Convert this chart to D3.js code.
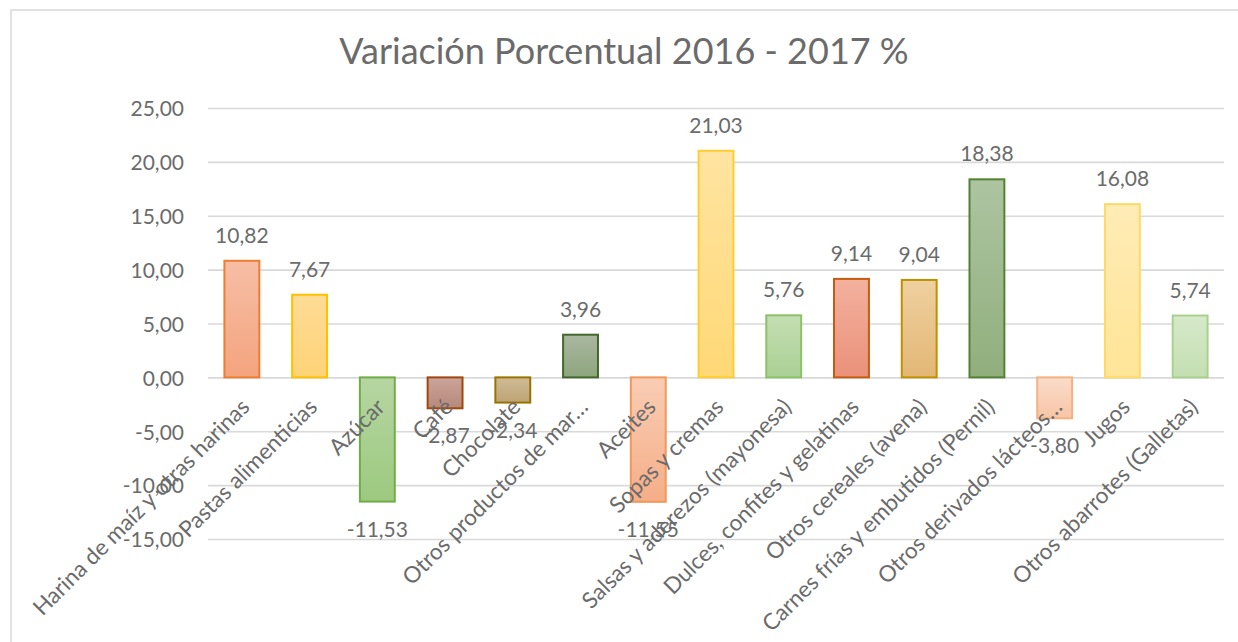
<!DOCTYPE html>
<html><head><meta charset="utf-8">
<script src="https://cdn.jsdelivr.net/npm/d3@7/dist/d3.min.js"></script>
<style>body{margin:0;background:#fff;overflow:hidden}</style>
</head><body><svg id="c" width="1238" height="642"></svg>
<script>
const title = "Variación Porcentual 2016 - 2017 %";
const categories = [
  "Harina de maíz y otras harinas", "Pastas alimenticias", "Azúcar", "Café", "Chocolate",
  "Otros productos de mar…", "Aceites", "Sopas y cremas", "Salsas y aderezos (mayonesa)",
  "Dulces, confites y gelatinas", "Otros cereales (avena)", "Carnes frías y embutidos (Pernil)",
  "Otros derivados lácteos…", "Jugos", "Otros abarrotes (Galletas)"
];
const values = [10.82, 7.67, -11.53, -2.87, -2.34, 3.96, -11.55, 21.03, 5.76, 9.14, 9.04, 18.38, -3.80, 16.08, 5.74];
const yTicks = [-15, -10, -5, 0, 5, 10, 15, 20, 25];
const fillTop    = ["#F6BEA5","#FEDC96","#B6D6A2","#CCA49A","#CFBB95","#A9B7A0","#F9CDB4","#FFE4A1","#C4DEB2","#F3B19E","#EFD0A0","#ADC4A1","#FADCCA","#FFEBB6","#D6E9CA"];
const fillBottom = ["#F4A47E","#FED377","#9CC97F","#B6897B","#BEA476","#8EA67E","#F5AE88","#FFD876","#AAD195","#EA917A","#E3B775","#90AF7D","#F7C5A6","#FFE597","#C4DFB2"];
const strokes    = ["#ED7D31","#FFC000","#70AD47","#9E480E","#997300","#43682B","#F1975A","#FFCD33","#8CC168","#C55A11","#BF9000","#548235","#F4B183","#FFD966","#A9D18E"];

const FONT = "Lato, 'Open Sans', sans-serif";
const TXT = "#6b6b6b";
const svg = d3.select("#c");

svg.append("rect").attr("x", 11).attr("y", 10).attr("width", 1240).attr("height", 650)
  .attr("fill", "#fff").attr("stroke", "#d9d9d9").attr("stroke-width", 1.5);

const x = d3.scaleBand().domain(categories).range([208, 1224]).paddingInner(0.485).paddingOuter(0.2425);
const y = d3.scaleLinear().domain([-15, 25]).range([539, 108]);

// gradients
const defs = svg.append("defs");
categories.forEach((c, i) => {
  const g = defs.append("linearGradient").attr("id", "g" + i)
    .attr("x1", 0).attr("y1", 0).attr("x2", 0).attr("y2", 1);
  g.append("stop").attr("offset", "0%").attr("stop-color", fillTop[i]);
  g.append("stop").attr("offset", "100%").attr("stop-color", fillBottom[i]);
});

// title
svg.append("text").attr("x", 624).attr("y", 64).attr("text-anchor", "middle")
  .attr("font-family", FONT).attr("font-size", 36).attr("fill", TXT).text(title);

// y axis with gridlines
const fmt = v => d3.format(".2f")(v).replace(".", ",").replace("\u2212", "-");
const yAxis = d3.axisLeft(y).tickValues(yTicks).tickFormat(fmt)
  .tickSize(-(1224 - 208)).tickPadding(24);
const ga = svg.append("g").attr("transform", "translate(208,0)").call(yAxis);
ga.select(".domain").remove();
ga.selectAll(".tick line").attr("stroke", "#d9d9d9").attr("stroke-width", 1.6);
ga.selectAll(".tick text").attr("font-family", FONT).attr("font-size", 21).attr("fill", TXT).attr("dy", "0.37em");

// bars
svg.append("g").selectAll("rect").data(values).join("rect")
  .attr("x", (d, i) => x(categories[i]))
  .attr("width", x.bandwidth())
  .attr("y", d => y(Math.max(0, d)))
  .attr("height", d => Math.abs(y(d) - y(0)))
  .attr("fill", (d, i) => `url(#g${i})`)
  .attr("stroke", (d, i) => strokes[i]).attr("stroke-width", 2);

// category labels
svg.append("g").selectAll("text").data(categories).join("text")
  .attr("transform", d => `translate(${x(d) + x.bandwidth() / 2 + 9},${y(0) + 31}) rotate(-45)`)
  .attr("text-anchor", "end").attr("font-family", FONT).attr("font-size", 22.5).attr("fill", TXT)
  .text(d => d);

// data labels
svg.append("g").selectAll("text").data(values).join("text")
  .attr("x", (d, i) => x(categories[i]) + x.bandwidth() / 2)
  .attr("y", d => d >= 0 ? y(d) - 18 : y(d) + 35)
  .attr("text-anchor", "middle").attr("font-family", FONT).attr("font-size", 21).attr("fill", TXT)
  .text(d => fmt(d));
</script></body></html>
